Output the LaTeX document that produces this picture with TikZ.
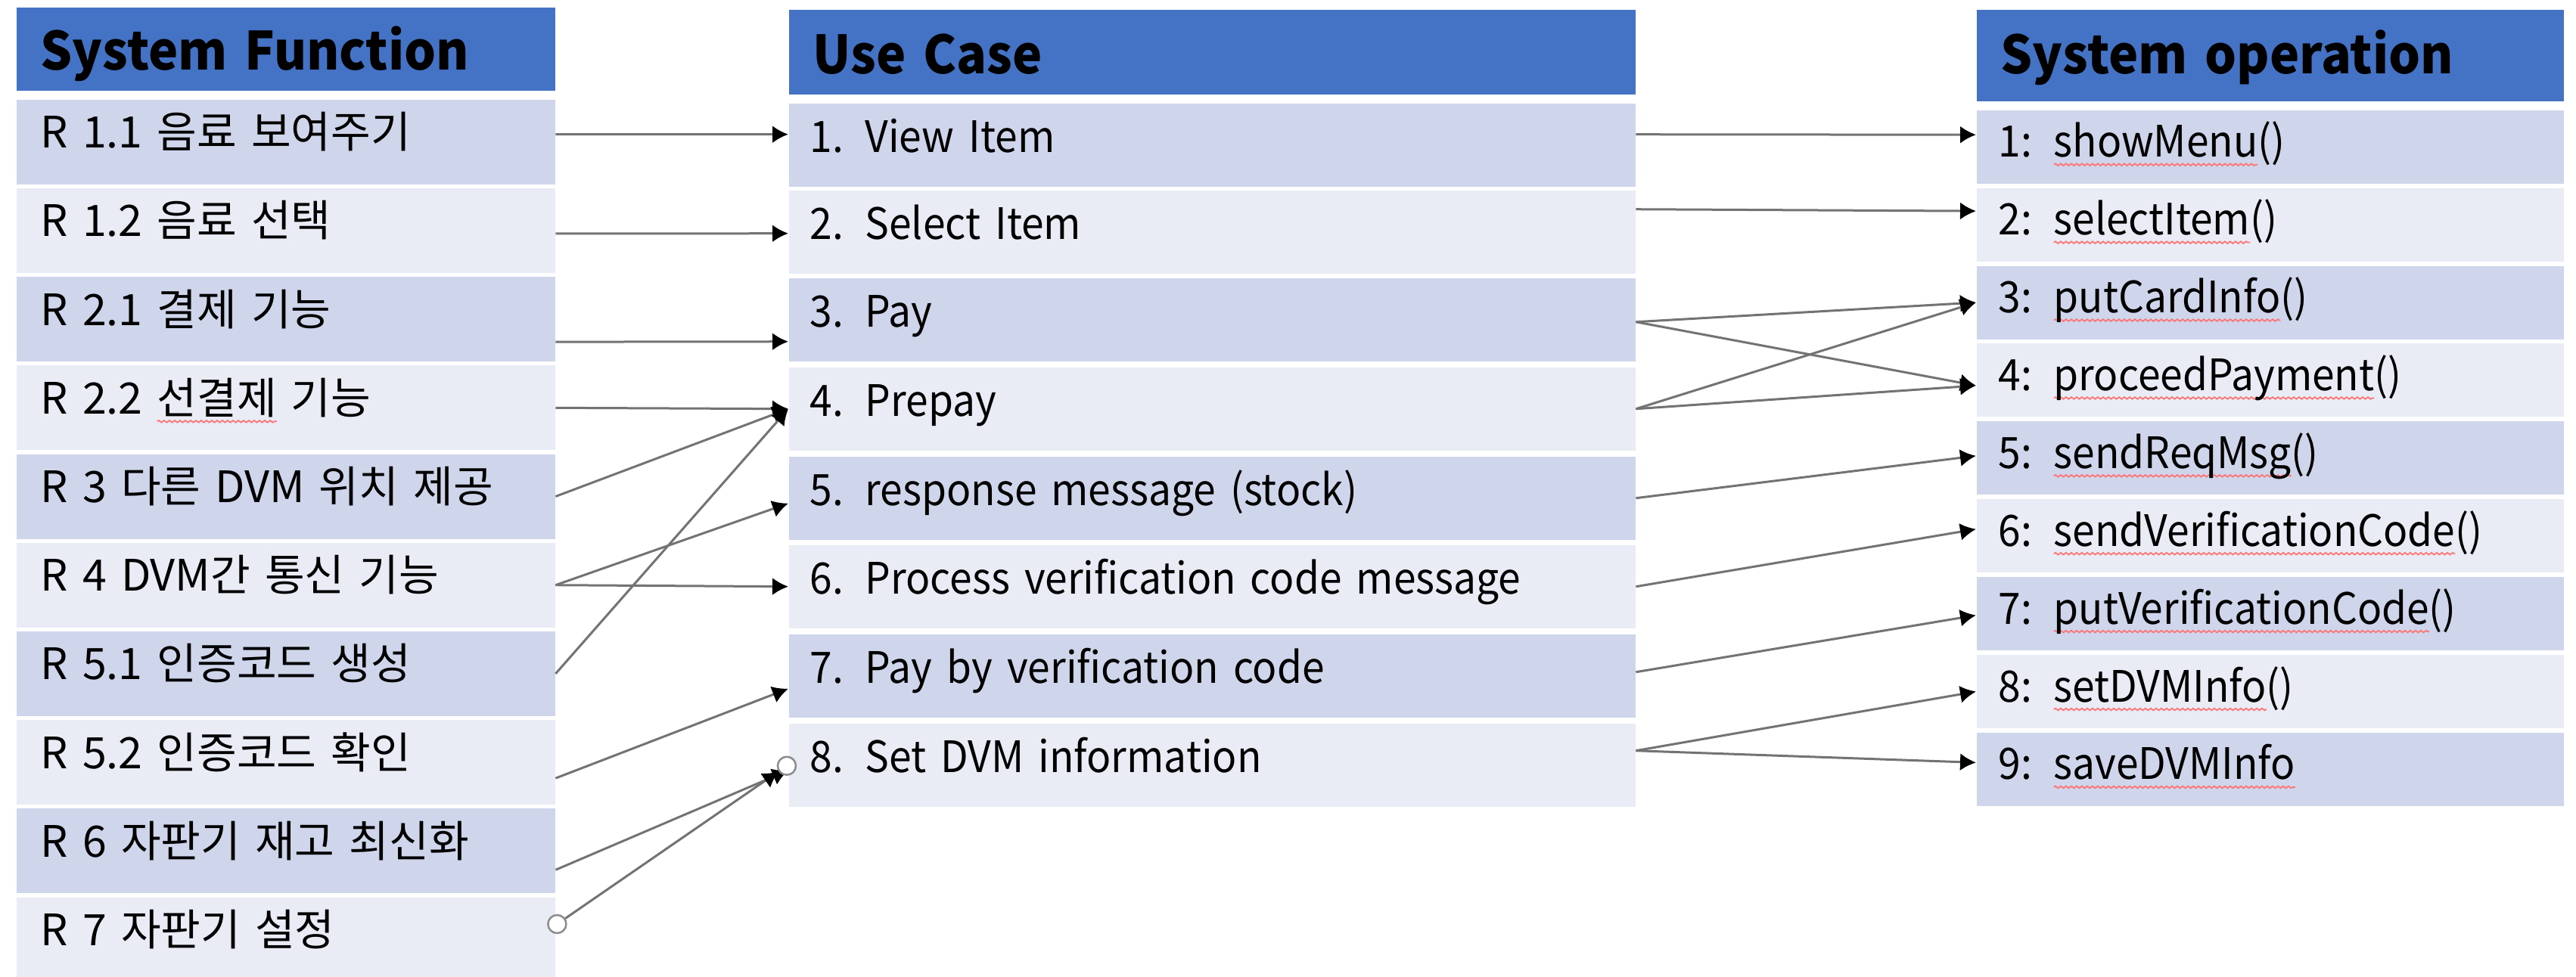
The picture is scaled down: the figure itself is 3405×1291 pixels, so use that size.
\documentclass[tikz,border=0pt]{standalone}
\usepackage{fontspec}
\setmainfont{Noto Sans CJK KR}
\newfontfamily\latinfont[FakeStretch=0.93]{Noto Sans CJK KR}
\newfontfamily\latinheadfont[FakeStretch=0.95]{Noto Sans CJK KR}
\usetikzlibrary{arrows.meta,calc,decorations.pathmorphing}

\definecolor{headblue}{HTML}{4472C4}
\definecolor{rowdark}{HTML}{CFD5EA}
\definecolor{rowlight}{HTML}{E9EBF5}

\newcommand\rowfont{\fontsize{16.3pt}{19pt}\selectfont}
\newcommand\headfont{\fontsize{19.8pt}{23pt}\selectfont\bfseries}

% red spell-check wave under a word
\newsavebox\spellbox
\newcommand\spell[1]{\sbox\spellbox{#1}\tikz[baseline=0pt,overlay]\draw[red!55,line width=0.5pt,decorate,decoration={snake,amplitude=0.13mm,segment length=0.7mm}] (0pt,-1mm) -- (\wd\spellbox,-1mm);\usebox\spellbox}

\tikzset{
  row/.style={anchor=north west, inner ysep=0pt, align=left, font=\rowfont},
  dark/.style={fill=rowdark},
  light/.style={fill=rowlight},
  sfrow/.style={row, inner xsep=3.2mm, text width=64.8mm, text height=6.4mm, text depth=4.8mm},
  ucrow/.style={row, font=\rowfont\latinfont, inner xsep=2.8mm, text width=106.3mm, text height=6.5mm, text depth=4.5mm},
  sorow/.style={row, font=\rowfont\latinfont, inner xsep=2.9mm, text width=71.8mm, text height=6.2mm, text depth=3.5mm},
  head/.style={anchor=north west, inner ysep=0pt, inner xsep=3.2mm, align=left, fill=headblue, font=\latinheadfont\headfont},
  link/.style={draw=black!55, line width=0.3mm, -{Latex[length=2.1mm,width=2.3mm,color=black]}},
  handle/.style={circle, draw=black!45, fill=white, line width=0.25mm, minimum size=2.4mm, inner sep=0pt},
}

\begin{document}
\begin{tikzpicture}[x=0.1mm, y=-0.1mm]
  \useasboundingbox (0,0) rectangle (3405,1291);
  % headers
  \node [head, text width=64.8mm, text height=8.3mm, text depth=2.7mm] (sfhead) at (21,9) {System Function};
  \node [head, text width=105.5mm, text height=8.5mm, text depth=2.7mm] (uchead) at (1042,12) {Use Case};
  \node [head, text width=71.2mm, text height=8.5mm, text depth=3.6mm] (sohead) at (2612,12) {System operation};
  % system functions
  \node [sfrow, dark] (sf1) at (21,131) {R 1.1 음료 보여주기};
  \node [sfrow, light] (sf2) at (21,248.2) {R 1.2 음료 선택};
  \node [sfrow, dark] (sf3) at (21,365.4) {R 2.1 결제 기능};
  \node [sfrow, light] (sf4) at (21,482.6) {R 2.2 \spell{선결제} 기능};
  \node [sfrow, dark] (sf5) at (21,599.8) {R 3 다른 DVM 위치 제공};
  \node [sfrow, light] (sf6) at (21,717) {R 4 DVM간 통신 기능};
  \node [sfrow, dark] (sf7) at (21,834.2) {R 5.1 인증코드 생성};
  \node [sfrow, light] (sf8) at (21,951.4) {R 5.2 인증코드 확인};
  \node [sfrow, dark] (sf9) at (21,1068.6) {R 6 자판기 재고 최신화};
  \node [sfrow, light, text depth=4.1mm] (sf10) at (21,1185.8) {R 7 자판기 설정};
  % use cases
  \node [ucrow, dark] (uc1) at (1042,136) {1. View Item};
  \node [ucrow, light] (uc2) at (1042,251) {2. Select Item};
  \node [ucrow, dark] (uc3) at (1042,367) {3. Pay};
  \node [ucrow, light] (uc4) at (1042,485) {4. Prepay};
  \node [ucrow, dark] (uc5) at (1042,603) {5. response message (stock)};
  \node [ucrow, light] (uc6) at (1042,720) {6. Process verification code message};
  \node [ucrow, dark] (uc7) at (1042,838) {7. Pay by verification code};
  \node [ucrow, light] (uc8) at (1042,956) {8. Set DVM information};
  % system operations
  \node [sorow, dark] (so1) at (2612,145) {1: \spell{showMenu}()};
  \node [sorow, light] (so2) at (2612,247.9) {2: \spell{selectItem}()};
  \node [sorow, dark] (so3) at (2612,350.8) {3: \spell{putCardInfo}()};
  \node [sorow, light] (so4) at (2612,453.7) {4: \spell{proceedPayment}()};
  \node [sorow, dark] (so5) at (2612,556.6) {5: \spell{sendReqMsg}()};
  \node [sorow, light] (so6) at (2612,659.5) {6: \spell{sendVerificationCode}()};
  \node [sorow, dark] (so7) at (2612,762.4) {7: \spell{putVerificationCode}()};
  \node [sorow, light] (so8) at (2612,865.3) {8: \spell{setDVMInfo}()};
  \node [sorow, dark] (so9) at (2612,968.2) {9: \spell{saveDVMInfo}};

  % function -> use case
  \draw [link] ($(sf1.east)+(0,-10)$) -- ($(uc1.west)+(0,-14)$);
  \draw [link] ($(sf2.east)+(0,4)$) -- ($(uc2.west)+(0,2)$);
  \draw [link] ($(sf3.east)+(0,30)$) -- ($(uc3.west)+(0,29)$);
  \draw [link] (sf4.east) -- (uc4.west);
  \draw [link] (sf5.east) -- (uc4.west);
  \draw [link] (sf6.east) -- ($(uc5.west)+(0,7)$);
  \draw [link] (sf6.east) -- (uc6.west);
  \draw [link] (sf7.east) -- (uc4.west);
  \draw [link] ($(sf8.east)+(0,21)$) -- ($(uc7.west)+(0,17)$);
  \draw [link] ($(sf9.east)+(0,25)$) -- ($(uc8.west)+(0,7)$);
  \node [handle] (h1) at ($(sf10.east)+(2,-17)$) {};
  \node [handle] (h2) at ($(uc8.west)+(-2,1)$) {};
  \draw [link] (h1) -- (h2);

  % use case -> system operation
  \draw [link] ($(uc1.east)+(0,-14)$) -- ($(so1.west)+(0,-16)$);
  \draw [link] ($(uc2.east)+(0,-30)$) -- ($(so2.west)+(0,-18)$);
  \draw [link] ($(uc3.east)+(0,3)$) -- (so3.west);
  \draw [link] ($(uc3.east)+(0,3)$) -- ($(so4.west)+(0,7)$);
  \draw [link] (uc4.east) -- (so3.west);
  \draw [link] (uc4.east) -- ($(so4.west)+(0,7)$);
  \draw [link] (uc5.east) -- ($(so5.west)+(0,-3)$);
  \draw [link] (uc6.east) -- ($(so6.west)+(0,-9)$);
  \draw [link] ($(uc7.east)+(0,-5)$) -- ($(so7.west)+(0,2)$);
  \draw [link] ($(uc8.east)+(0,-19)$) -- (so8.west);
  \draw [link] ($(uc8.east)+(0,-19)$) -- ($(so9.west)+(0,-9)$);
\end{tikzpicture}
\end{document}
